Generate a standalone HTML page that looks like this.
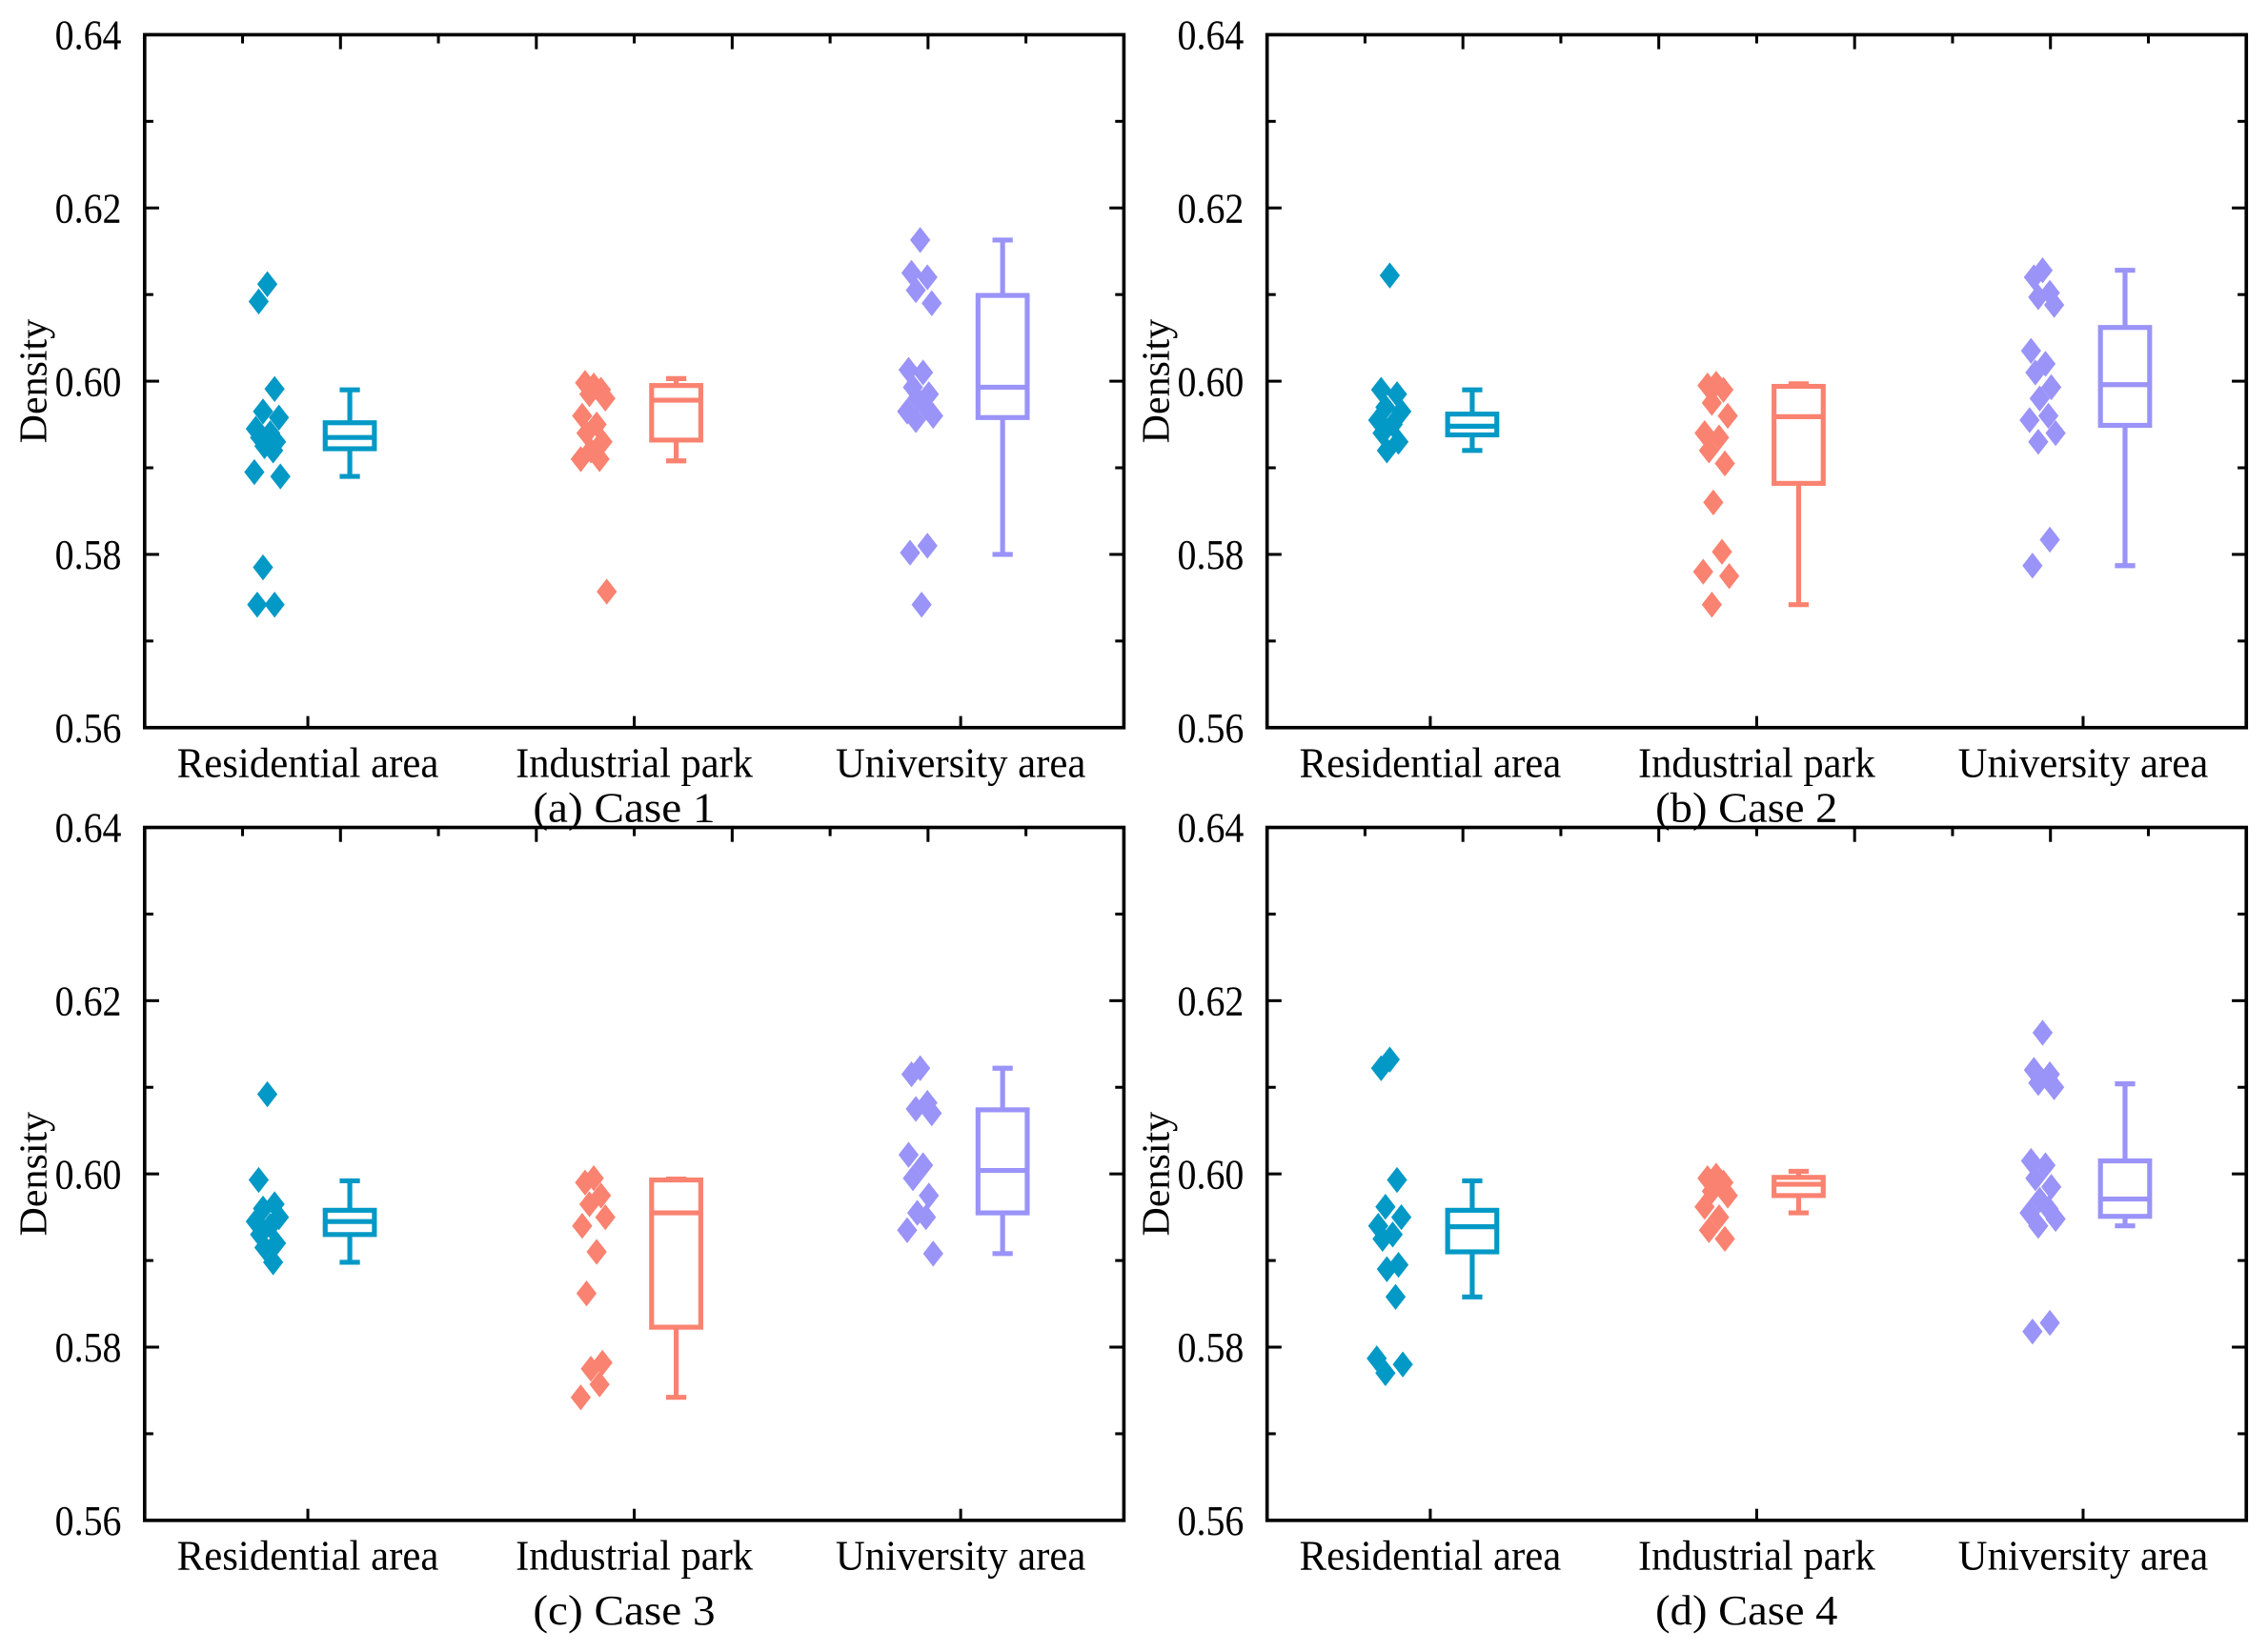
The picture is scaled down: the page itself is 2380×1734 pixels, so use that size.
<!DOCTYPE html>
<html><head><meta charset="utf-8"><style>
html,body{margin:0;padding:0;background:#fff;}
svg{display:block;}
text{font-family:"Liberation Serif",serif;fill:#000;}
</style></head><body>
<svg id="chart" xmlns="http://www.w3.org/2000/svg" width="2380" height="1734" viewBox="0 0 1568 1142" preserveAspectRatio="none"></svg>
<script>
const categories = ["Residential area","Industrial park","University area"];
const captions = ["(a) Case 1","(b) Case 2","(c) Case 3","(d) Case 4"];
const yTicks = [0.56,0.58,0.60,0.62,0.64];
const yTickLabels = ["0.56","0.58","0.60","0.62","0.64"];
// points per case per category
const case1Res = [0.6112,0.6092,0.5991,0.5965,0.5958,0.5945,0.594,0.5935,0.593,0.5925,0.592,0.5895,0.589,0.5785,0.5742,0.5742];
const case1Ind = [0.5995,0.5998,0.599,0.5985,0.598,0.596,0.595,0.594,0.593,0.592,0.591,0.591,0.5757];
const case1Uni = [0.6163,0.6125,0.612,0.6105,0.609,0.6013,0.601,0.5993,0.5985,0.598,0.597,0.5965,0.596,0.5955,0.581,0.5802,0.5742];
const case2Res = [0.6122,0.599,0.5985,0.597,0.5965,0.5955,0.595,0.594,0.593,0.592];
const case2Ind = [0.5997,0.5995,0.599,0.5975,0.596,0.594,0.5935,0.592,0.5905,0.586,0.5803,0.578,0.5775,0.5742];
const case2Uni = [0.6128,0.612,0.6102,0.6097,0.6088,0.6035,0.602,0.601,0.5993,0.598,0.596,0.5955,0.594,0.593,0.5817,0.5787];
const case3Res = [0.6092,0.5993,0.5965,0.596,0.595,0.5945,0.594,0.593,0.592,0.5915,0.5898];
const case3Ind = [0.5995,0.599,0.5975,0.5965,0.595,0.594,0.591,0.5862,0.5782,0.5775,0.5757,0.5742];
const case3Uni = [0.6122,0.6115,0.6082,0.6075,0.607,0.6022,0.601,0.5995,0.5975,0.5955,0.595,0.5935,0.5908];
const case4Res = [0.6132,0.6122,0.5993,0.5962,0.595,0.594,0.593,0.5925,0.5895,0.589,0.5858,0.5787,0.578,0.577];
const case4Ind = [0.5998,0.5995,0.599,0.598,0.5975,0.5962,0.595,0.5935,0.5925];
const case4Uni = [0.6163,0.612,0.6115,0.6105,0.61,0.6015,0.601,0.5995,0.5985,0.597,0.596,0.5955,0.5948,0.594,0.5828,0.5818];
// box stats: [min, q1, median, q3, max]
const case1Box = [[0.589,0.5922,0.5935,0.5952,0.599],[0.5908,0.5932,0.5978,0.5995,0.6003],[0.580,0.5958,0.5993,0.6099,0.6163]];
const case2Box = [[0.592,0.5938,0.5948,0.5962,0.599],[0.5742,0.5882,0.5959,0.5994,0.5997],[0.5787,0.5949,0.5996,0.6062,0.6128]];
const case3Box = [[0.5898,0.593,0.5945,0.5958,0.5992],[0.5742,0.5823,0.5955,0.5993,0.5994],[0.5908,0.5955,0.6004,0.6074,0.6122]];
const case4Box = [[0.5858,0.591,0.5939,0.5958,0.5992],[0.5955,0.5975,0.5988,0.5996,0.6003],[0.594,0.5951,0.5971,0.6015,0.6104]];

const points = [[case1Res,case1Ind,case1Uni],[case2Res,case2Ind,case2Uni],[case3Res,case3Ind,case3Uni],[case4Res,case4Ind,case4Uni]];
const boxes = [case1Box,case2Box,case3Box,case4Box];
const colors = ["#0399c6","#fa8270","#9a93f8"];
const jit = [0,-6,5,-3,8,-8,2,-5,6,-2,4,-9,9,-3,5,-7,1];

const NS="http://www.w3.org/2000/svg";
const svg=document.getElementById('chart');
function mk(tag,attrs,parent){const e=document.createElementNS(NS,tag);for(const k in attrs)e.setAttribute(k,attrs[k]);(parent||svg).appendChild(e);return e;}

const panels=[{x:100,y:24},{x:876,y:24},{x:100,y:572},{x:876,y:572}];
const W=677,H=479,ymin=0.56,ymax=0.64;

panels.forEach((p,pi)=>{
  const g=mk('g',{});
  
  
  const yS=v=>p.y+H-(v-ymin)/(ymax-ymin)*H;
  const fr=mk('rect',{x:p.x,y:p.y,width:W,height:H,fill:'none',stroke:'#000','stroke-width':2.4},g);
  
  
  for(let k=0;k<=8;k++){
    const v=ymin+k*0.01, y=yS(v), len=(k%2===0)?10:6;
    mk('line',{x1:p.x,y1:y,x2:p.x+len,y2:y,stroke:'#000','stroke-width':2},g);
    mk('line',{x1:p.x+W,y1:y,x2:p.x+W-len,y2:y,stroke:'#000','stroke-width':2},g);
  }
  for(let k=1;k<10;k++){
    const x=p.x+W*k/10,len=(k%2===0)?10:6;
    mk('line',{x1:x,y1:p.y,x2:x,y2:p.y+len,stroke:'#000','stroke-width':2},g);
  }
  yTicks.forEach((v,i)=>{
    const t=mk('text',{x:p.x-62,y:yS(v)+10,'font-size':29,textLength:46,lengthAdjust:'spacingAndGlyphs'},g);
    t.textContent=yTickLabels[i];
    
    
  });
  const yt=mk('text',{x:0,y:0,'font-size':27,'text-anchor':'middle',textLength:86,lengthAdjust:'spacingAndGlyphs',transform:`translate(${p.x-68},${p.y+H/2}) rotate(-90)`},g);
  yt.textContent='Density';
  
  
  const catW=[181,164,173];
  categories.forEach((c,ci)=>{
    const cx=p.x+W*(2*ci+1)/6;
    mk('line',{x1:cx,y1:p.y+H,x2:cx,y2:p.y+H-8,stroke:'#000','stroke-width':2},g);
    const t=mk('text',{x:cx,y:p.y+H+34,'font-size':29,'text-anchor':'middle',textLength:catW[ci],lengthAdjust:'spacingAndGlyphs'},g);
    t.textContent=c;
    
    
    const col=colors[ci];
    const sx=cx-28;
    points[pi][ci].forEach((v,j)=>{
      const y=yS(v),x=sx+jit[j%jit.length];
      const d=mk('polygon',{points:`${x},${y-9} ${x+7},${y} ${x},${y+9} ${x-7},${y}`,fill:col},g);
      
      
    });
    const b=boxes[pi][ci],bx=cx+29,bw=34,cw=14;
    const bg=mk('g',{stroke:col,'stroke-width':3.4,fill:'none'},g);
    
    
    mk('line',{x1:bx,y1:yS(b[0]),x2:bx,y2:yS(b[1])},bg);
    mk('line',{x1:bx,y1:yS(b[3]),x2:bx,y2:yS(b[4])},bg);
    mk('line',{x1:bx-cw/2,y1:yS(b[0]),x2:bx+cw/2,y2:yS(b[0])},bg);
    mk('line',{x1:bx-cw/2,y1:yS(b[4]),x2:bx+cw/2,y2:yS(b[4])},bg);
    mk('rect',{x:bx-bw/2,y:yS(b[3]),width:bw,height:Math.max(0.5,yS(b[1])-yS(b[3]))},bg);
    mk('line',{x1:bx-bw/2,y1:yS(b[2]),x2:bx+bw/2,y2:yS(b[2])},bg);
  });
  const cap=mk('text',{x:p.x+W/2-7,y:p.y+H+(pi<2?65:72),'font-size':29,'text-anchor':'middle',textLength:126,lengthAdjust:'spacingAndGlyphs'},g);
  cap.textContent=captions[pi];
  
  
});
</script>
</body></html>
